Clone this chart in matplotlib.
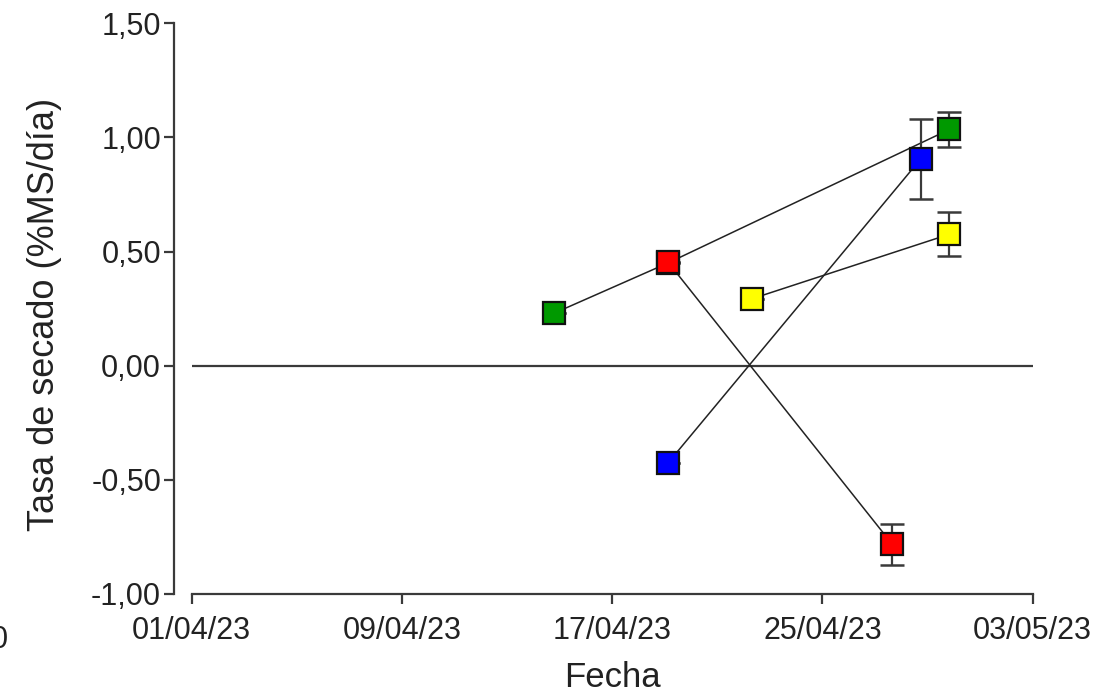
import matplotlib
matplotlib.use("Agg")
import matplotlib.pyplot as plt
import matplotlib.dates as mdates
import numpy as np

plt.rcParams['font.family'] = ['Liberation Sans', 'DejaVu Sans']

# series: fechas (con hora), tasa de secado (%MS/dia), error
verde_fechas = ["2023-04-14T19:00", "2023-04-19T03:00", "2023-04-29T20:00"]
verde_tasa = [0.23, 0.45, 1.035]
verde_err = [0.0, 0.0, 0.076]

rojo_fechas = ["2023-04-19T03:00", "2023-04-27T16:00"]
rojo_tasa = [0.454, -0.783]
rojo_err = [0.0, 0.089]

azul_fechas = ["2023-04-19T03:00", "2023-04-28T18:00"]
azul_tasa = [-0.426, 0.907]
azul_err = [0.0, 0.175]

amarillo_fechas = ["2023-04-22T07:30", "2023-04-29T20:00"]
amarillo_tasa = [0.293, 0.576]
amarillo_err = [0.0, 0.097]

ticks_x = ["2023-04-01", "2023-04-09", "2023-04-17", "2023-04-25", "2023-05-03"]
ticks_y = [-1.0, -0.5, 0.0, 0.5, 1.0, 1.5]

series = [
    (verde_fechas, verde_tasa, verde_err, '#009900'),
    (rojo_fechas, rojo_tasa, rojo_err, '#ff0000'),
    (azul_fechas, azul_tasa, azul_err, '#0000ff'),
    (amarillo_fechas, amarillo_tasa, amarillo_err, '#ffff00'),
]

txt = '#222222'
gris = '#3a3a3a'

fig = plt.figure(figsize=(10.99, 6.98), dpi=100)
ax = fig.add_axes([0.1744, 0.149, 0.7652, 0.8176])

ax.axhline(0, color=gris, lw=1.6, zorder=1)

for fechas, tasa, err, color in series:
    x = np.array(fechas, dtype='datetime64[m]')
    ax.plot(x, tasa, color='#222222', lw=1.1, zorder=2)
    ax.errorbar(x, tasa, yerr=err, fmt='none', ecolor=gris, elinewidth=1.6,
                capsize=8.5, capthick=1.8, zorder=3)
    ax.plot(x, tasa, ls='none', marker='s', ms=16, mfc=color, mec='#111111',
            mew=1.6, zorder=4)

ax.set_xlim(np.datetime64(ticks_x[0]), np.datetime64(ticks_x[-1]))
ax.set_ylim(-1.0, 1.5)
ax.set_xticks(np.array(ticks_x, dtype='datetime64[D]'))
ax.xaxis.set_major_formatter(mdates.DateFormatter('%d/%m/%y'))
ax.set_yticks(ticks_y)
ax.set_yticklabels([f"{v:.2f}".replace('.', ',') for v in ticks_y])

for s in ['top', 'right']:
    ax.spines[s].set_visible(False)
for s in ['left', 'bottom']:
    ax.spines[s].set_color(gris)
    ax.spines[s].set_linewidth(1.6)
ax.spines['left'].set_position(('outward', 13))

ax.tick_params(axis='both', colors=gris, width=1.6, length=7, labelsize=22,
               labelcolor=txt)
ax.tick_params(axis='x', pad=9)
ax.tick_params(axis='y', pad=2)

ax.set_xlabel('Fecha', fontsize=25, color=txt)
ax.set_ylabel('Tasa de secado (%MS/día)', fontsize=26, color=txt)
ax.xaxis.set_label_coords(0.5, -0.118)
ax.yaxis.set_label_coords(-0.154, 0.489)

fig.text(8 / 1099, 1 - 640 / 698, '0', ha='right', va='center', fontsize=22,
         color=txt)

fig.savefig('out.png', dpi=100)
